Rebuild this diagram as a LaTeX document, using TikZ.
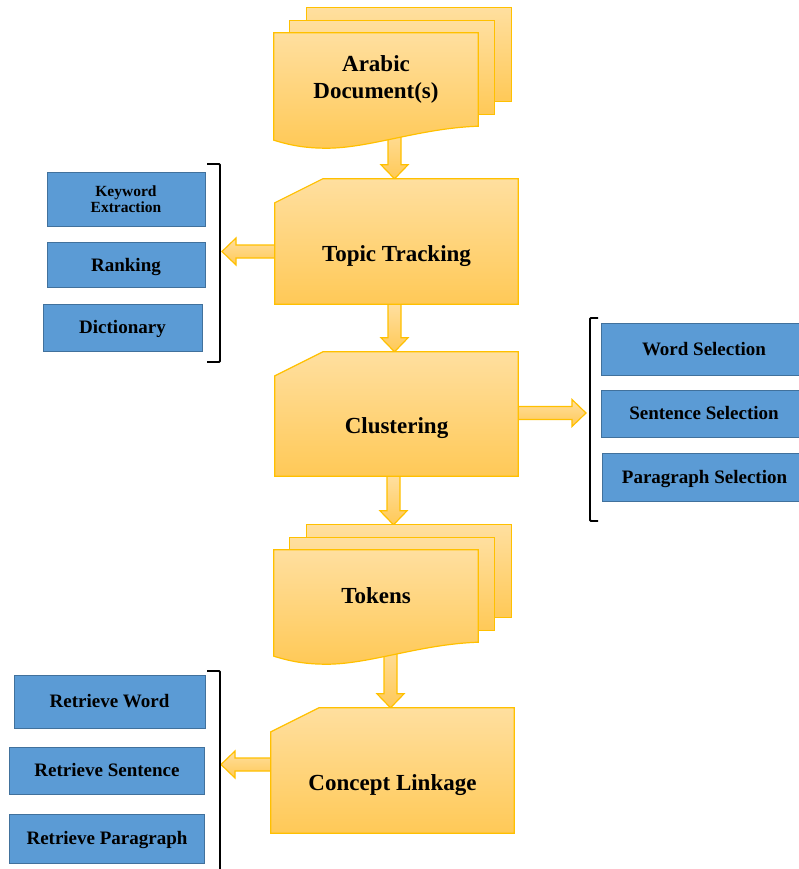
\documentclass[tikz,border=0pt]{standalone}
\usepackage{fontspec}
\setmainfont{Liberation Serif}
\usepackage{tikz}
\usetikzlibrary{calc,backgrounds}
\definecolor{gold}{HTML}{FFC000}
\definecolor{sandtop}{HTML}{FFDF9F}
\definecolor{sandbot}{HTML}{FFC957}
\definecolor{steel}{HTML}{5B9BD5}
\definecolor{steeledge}{HTML}{41719C}

% wide arrow from #1 to its tip #2
\newcommand{\blockarrow}[2]{%
  \coordinate (ba) at (#1);
  \coordinate (bb) at (#2);
  \coordinate (bh) at ($(bb)!14pt!(ba)$);
  \path[flow] ($(ba)!6.5pt!90:(bb)$) -- ($(bh)!6.5pt!90:(bb)$) -- ($(bh)!13.5pt!90:(bb)$) -- (bb)
    -- ($(bh)!13.5pt!-90:(bb)$) -- ($(bh)!6.5pt!-90:(bb)$) -- ($(ba)!6.5pt!-90:(bb)$) -- cycle;
}
% stack of three sheets, the front one with a wavy bottom
\newcommand{\docstack}[1]{%
  \foreach \dx/\dy in {33/-25,16/-12}
    \path[sheet] ($(#1.north west)+(\dx,\dy)$) rectangle ($(#1.south east)+(\dx,\dy)$);
  \path[sheet] (#1.south east) -- (#1.north east) -- (#1.north west) -- ($(#1.south west)+(0,14)$)
    .. controls +(16,5) and +(-22,0) .. ($(#1.south west)+(53,22)$)
    .. controls +(43,0) and +(-58,2) .. (#1.south east) -- cycle;
}
% box with the top left corner cut off
\newcommand{\card}[1]{%
  \path[sheet] (#1.south west) -- (#1.north west) -- ($(#1.north west)+(48,-24)$)
    -- ($(#1.north east)+(0,-24)$) -- (#1.south east) -- cycle;
}

\begin{document}
\begin{tikzpicture}[x=1pt,y=-1pt]
  \tikzset{
    sheet/.style={draw=gold,line width=1.2,top color=sandtop,bottom color=sandbot},
    flow/.style={draw=gold,line width=1.2,top color=sandtop,bottom color=sandbot},
    stage/.style={inner sep=0pt,align=center,font=\bfseries\fontsize{23}{27}\selectfont},
    tag/.style={draw=steeledge,fill=steel,line width=1,inner sep=0pt,align=center,
      font=\bfseries\fontsize{19}{22}\selectfont},
    % keep the capitals centred, whatever the descenders
    bigcap/.style={text height=15.2pt,text depth=0pt},
    smallcap/.style={text height=12.5pt,text depth=0pt},
    bracket/.style={draw=black,line width=1.8,rounded corners=1}
  }
  \useasboundingbox (0,0) rectangle (798,869);

  % main chain
  \node[stage,minimum width=204pt,minimum height=93pt] (arabic) at (376,79.5) {Arabic\\Document(s)};
  \node[stage,bigcap,minimum width=243pt,minimum height=101pt] (topic) at (396.5,253.5) {Topic Tracking};
  \node[stage,bigcap,minimum width=243pt,minimum height=100pt] (clust) at (396.5,426) {Clustering};
  \node[stage,bigcap,minimum width=204pt,minimum height=92pt] (tokens) at (376,596) {Tokens};
  \node[stage,bigcap,minimum width=243pt,minimum height=101pt] (concept) at (392.5,782.5) {Concept Linkage};

  % side lists
  \node[tag,minimum width=158pt,minimum height=53pt,font=\bfseries\fontsize{15.5}{16}\selectfont] (kw) at (126,199.5) {Keyword\\Extraction};
  \node[tag,smallcap,minimum width=158pt,minimum height=45pt] (rank) at (126,265) {Ranking};
  \node[tag,smallcap,minimum width=159pt,minimum height=47pt] (dict) at (122.5,327.5) {Dictionary};

  \node[tag,smallcap,minimum width=206pt,minimum height=52pt] (wsel) at (704,349) {Word Selection};
  \node[tag,smallcap,minimum width=206pt,minimum height=47pt] (ssel) at (704,413.5) {Sentence Selection};
  \node[tag,smallcap,minimum width=205pt,minimum height=48pt] (psel) at (704.5,477) {Paragraph Selection};

  \node[tag,smallcap,minimum width=191pt,minimum height=53pt] (rword) at (109.5,701.5) {Retrieve Word};
  \node[tag,smallcap,minimum width=195pt,minimum height=47pt] (rsent) at (107,770.5) {Retrieve Sentence};
  \node[tag,smallcap,minimum width=195pt,minimum height=49pt] (rpara) at (107,838.5) {Retrieve Paragraph};

  % brackets
  \coordinate (kb-top) at (220,164);
  \coordinate (kb-bot) at (220,362);
  \coordinate (sb-top) at (590,318);
  \coordinate (sb-bot) at (590,521);
  \coordinate (lb-top) at (220,671);
  \coordinate (lb-bot) at (220,875);
  \draw[bracket] ($(kb-top)+(-13,0)$) -- (kb-top) -- (kb-bot) -- ++(-13,0);
  \draw[bracket] ($(sb-top)+(8,0)$) -- (sb-top) -- (sb-bot) -- ++(8,0);
  \draw[bracket] ($(lb-top)+(-13,0)$) -- (lb-top) -- (lb-bot) -- ++(-13,0);

  \begin{scope}[on background layer]
    % arrows go under the shapes
    \blockarrow{$(arabic.south -| topic.north)+(-2,0)$}{$(topic.north)+(-2,-24)$}
    \blockarrow{$(topic.south)+(-2,0)$}{$(clust.north)+(-2,-24)$}
    \blockarrow{$(clust.south)+(-3,0)$}{$(clust.south |- tokens.north)+(-3,-25)$}
    \blockarrow{$(tokens.south -| concept.north)+(-2,0)$}{$(concept.north)+(-2,-24)$}
    \blockarrow{$(topic.west)+(0,-2)$}{$(topic.west -| kb-top)+(2,-2)$}
    \blockarrow{$(clust.east)+(0,-13)$}{$(clust.east -| sb-top)+(-4,-13)$}
    \blockarrow{$(concept.west)+(0,-18)$}{$(concept.west -| lb-top)+(1,-18)$}

    \docstack{arabic}
    \card{topic}
    \card{clust}
    \docstack{tokens}
    \card{concept}
  \end{scope}
\end{tikzpicture}
\end{document}
